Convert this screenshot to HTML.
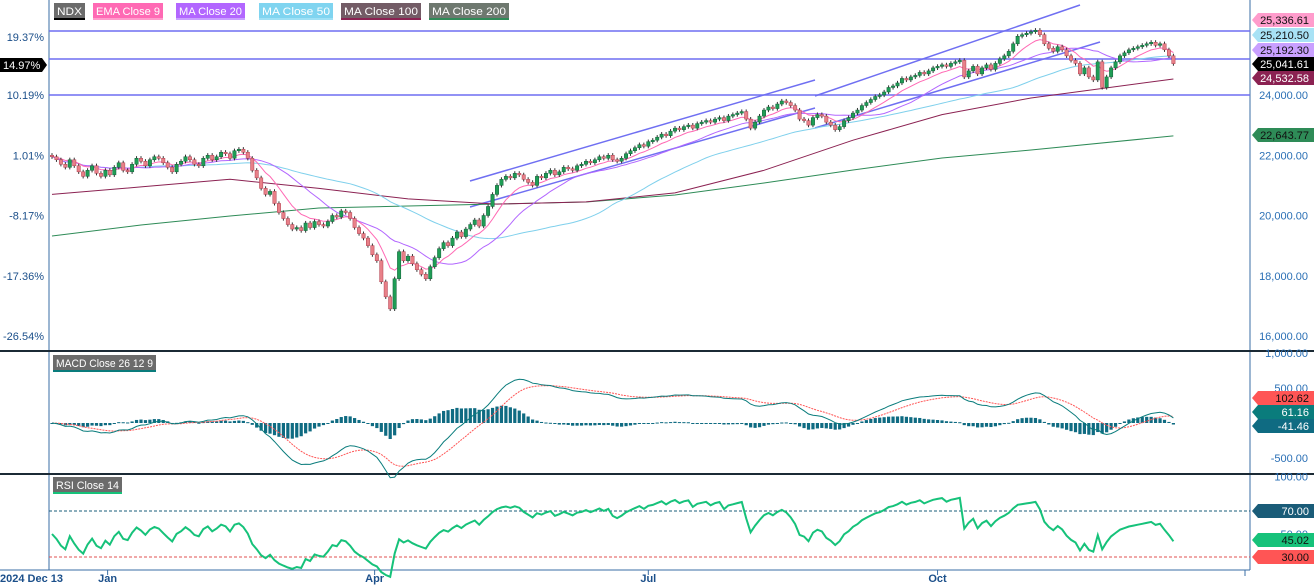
<!DOCTYPE html>
<html><head><meta charset="utf-8">
<style>
html,body{margin:0;padding:0;background:#fff;}
svg{display:block;font-family:"Liberation Sans",sans-serif;}
</style></head>
<body>
<svg id="c" width="1314" height="586" viewBox="0 0 1314 586"></svg>
<script>
const closes=[21950,21850,21700,21600,21850,21650,21450,21300,21500,21650,21400,21300,21500,
21350,21600,21750,21500,21450,21700,21900,21800,21650,21850,21950,21900,
21750,21600,21450,21700,21800,21950,21850,21700,21650,21900,22000,21850,21950,22100,22050,21900,22150,22200,
22100,21900,21500,21250,20900,20700,20800,20400,20100,19900,19700,19550,19600,19500,
19750,19600,19800,19700,19650,19800,20000,19950,20150,20100,19900,
19600,19400,19250,19000,18700,18500,17800,17300,16900,17900,18800,
18500,18650,18400,18200,18050,17900,18300,18600,18900,
19100,19000,19250,19450,19300,19550,19700,19850,19650,20000,20300,20700,21000,21200,
21300,21250,21400,21350,21200,21100,21000,21300,21250,21400,21500,21350,21450,21600,21550,21500,21650,21700,
21800,21750,21850,21950,21900,22000,21850,21800,21900,22050,22150,22250,22350,22300,22450,22500,22600,22700,
22650,22800,22900,22850,22950,23000,22900,23050,23100,23150,23100,23200,23250,23150,23300,23350,23400,23450,
23200,22900,23100,23300,23500,23600,23550,23700,23800,23750,23650,23500,23200,
23150,23000,23250,23350,23300,23100,23000,22850,22950,23150,23250,23400,23500,23650,
23750,23850,23950,24000,24100,24250,24300,24400,24550,24500,24600,24650,24750,24700,24800,24900,24950,25000,24950,25050,25100,25150,
24600,24800,24950,24700,24900,25000,24850,25050,25200,25300,25450,25700,25950,26000,26050,26100,26150,
26000,25700,25550,25450,25600,25500,25300,25150,25050,24700,24900,24600,24500,25100,24250,
24600,24900,25100,25300,25400,25500,25550,25600,25650,25700,25750,25650,25700,25500,25300,25041.61];
const maIdx=[0,20,40,60,80,100,120,140,160,180,200,220,252];
const ma100=[20700,20950,21200,20900,20550,20380,20450,20750,21500,22500,23350,23900,24532.58];
const ma200=[19320,19685,19983,20249,20315,20382,20448,20680,21079,21510,21909,22174,22643.77];
const priceTicks=[24000,22000,20000,18000,16000];
const pctLabels=["19.37%","10.19%","1.01%","-8.17%","-17.36%","-26.54%"];
const pctPrices=[26000,24000,22000,20000,18000,16000];
const macdTicks=[1000,500,-500];
const rsiTicks=[100,50];
const months=["Jan","Apr","Jul","Oct"];
const monthIdx=[12.5,72.5,134,199];

const NS="http://www.w3.org/2000/svg",S=document.getElementById('c');
function el(t,a,p){const e=document.createElementNS(NS,t);for(const k in a)e.setAttribute(k,a[k]);(p||S).appendChild(e);return e;}
const X=i=>52+i*4.45;
const Y=p=>95+(24000-p)*0.030125;
const YM=v=>423-v*0.07;
const YR=v=>511+(70-v)*1.15;

let g=el('g',{});
el('line',{x1:49,y1:0,x2:49,y2:570,stroke:'#3a6ea5','stroke-width':1},g);
el('line',{x1:1250,y1:0,x2:1250,y2:570,stroke:'#3a6ea5','stroke-width':1},g);
el('line',{x1:0,y1:351,x2:1314,y2:351,stroke:'#1b2a35','stroke-width':2},g);
el('line',{x1:0,y1:474,x2:1314,y2:474,stroke:'#1b2a35','stroke-width':2},g);
el('line',{x1:0,y1:570,x2:1250,y2:570,stroke:'#3a6ea5','stroke-width':1},g);

[31,59,95].forEach(yy=>{const l=el('line',{x1:49,y1:yy,x2:1250,y2:yy,stroke:'#6f6ff2','stroke-width':1.5});
});
[[470,181,815,80],[470,207,815,108],[815,96,1080,5],[815,128,1100,42]].forEach(c=>{const l=el('line',{x1:c[0],y1:c[1],x2:c[2],y2:c[3],stroke:'#6f6ff2','stroke-width':1.5});
});

function ema(a,n){const k=2/(n+1);const r=[];a.forEach((v,i)=>r.push(i?v*k+r[i-1]*(1-k):v));return r;}
function sma(a,n){return a.map((v,i)=>{const s=a.slice(Math.max(0,i-n+1),i+1);return s.reduce((x,y)=>x+y,0)/s.length;});}
function poly(vals,xf,yf,col,w,name,dash){const pts=vals.map((v,i)=>xf(i).toFixed(1)+','+yf(v).toFixed(1)).join(' ');
const p=el('polyline',{points:pts,fill:'none',stroke:col,'stroke-width':w});if(dash)p.setAttribute('stroke-dasharray',dash);
}
poly(ma200,i=>X(maIdx[i]),Y,'#2e8b57',1,'ma200-line');
poly(ma100,i=>X(maIdx[i]),Y,'#8b2252',1,'ma100-line');
poly(sma(closes,50),X,Y,'#7fd0ec',1,'ma50-line');
poly(sma(closes,20),X,Y,'#b266ff',1,'ma20-line');
poly(ema(closes,9),X,Y,'#ff69b4',1,'ema9-line');

closes.forEach((c,i)=>{const o=i?closes[i-1]:c+50;const up=c>=o;const hi=Math.max(o,c)+70,lo=Math.min(o,c)-70;
const cg=el('g',{});
el('line',{x1:X(i),y1:Y(hi),x2:X(i),y2:Y(lo),stroke:'#333','stroke-width':1},cg);
const t=Y(Math.max(o,c)),b=Y(Math.min(o,c));
el('rect',{x:X(i)-1.7,y:t,width:3.4,height:Math.max(1.5,b-t),fill:up?'#1f9d55':'#e88088',stroke:up?'#14603a':'#b04050','stroke-width':0.5},cg);});

const e12=ema(closes,12),e26=ema(closes,26);const macd=e12.map((v,i)=>v-e26[i]);const sig=ema(macd,9);
macd.forEach((v,i)=>{const h=v-sig[i];const r=el('rect',{x:X(i)-1.6,y:Math.min(YM(h),423),width:3.2,height:Math.max(1,Math.abs(YM(h)-423)),fill:'#0f6b82'});
});
poly(sig,X,YM,'#ff5555',1,'macd-signal-line','2,1');
poly(macd,X,YM,'#0a7c7c',1,'macd-line');

const rsi=[];let ag=40,al=40;closes.forEach((c,i)=>{if(!i){rsi.push(50);return;}const d=c-closes[i-1];const gn=Math.max(d,0),ls=Math.max(-d,0);
ag=(ag*13+gn)/14;al=(al*13+ls)/14;rsi.push(al===0?100:100-100/(1+ag/al));});
[70,30].forEach((v,k)=>{const l=el('line',{x1:49,y1:YR(v),x2:1250,y2:YR(v),stroke:k?'#e05050':'#1a5c78','stroke-width':1,'stroke-dasharray':'3,2'});
});
poly(rsi,X,YR,'#16c27a',2,'rsi-line');

function tag(x,y,w,txt,bg,under,name){const gg=el('g',{});
el('rect',{x:x,y:y,width:w,height:15,fill:bg},gg);el('rect',{x:x,y:y+15,width:w,height:2,fill:under},gg);
const t=el('text',{x:x+3,y:y+12,'font-size':11,fill:'#fff',textLength:w-6,lengthAdjust:'spacingAndGlyphs'},gg);t.textContent=txt;}
tag(54,3,31,'NDX','#6b6b6b','#000','legend-ndx');
tag(93,3,70,'EMA  Close 9','#ff69b4','#ff9ccc','legend-ema9');
tag(176,3,69,'MA  Close 20','#b266ff','#c9a0ff','legend-ma20');
tag(259,3,74,'MA  Close 50','#7fd4f0','#9ee0f5','legend-ma50');
tag(341,3,80,'MA  Close 100','#735c66','#8b2252','legend-ma100');
tag(429,3,80,'MA  Close 200','#6e786f','#2e8b57','legend-ma200');
tag(53,355,103,'MACD  Close 26 12 9','#6b6b6b','#0a7c7c','legend-macd');
tag(53,477,69,'RSI  Close 14','#6b6b6b','#16c27a','legend-rsi');

function txt(x,y,s,col,anchor,name,size,weight){const t=el('text',{x:x,y:y,'font-size':size||11,fill:col,'text-anchor':anchor||'start'});if(weight)t.setAttribute('font-weight',weight);
t.textContent=s;return t;}
pctLabels.forEach((s,i)=>txt(44,Y(pctPrices[i])+4+(i==0?2:0),s,'#1b4f8a','end','pct-label'));
priceTicks.forEach(p=>txt(1308,Y(p)+4,p.toLocaleString('en-US',{minimumFractionDigits:2}),'#2a6fb5','end','price-tick'));
macdTicks.forEach(v=>txt(1308,YM(v)+4,v.toLocaleString('en-US',{minimumFractionDigits:2}),'#2a6fb5','end','macd-tick'));
rsiTicks.forEach(v=>txt(1308,YR(v)+4,v.toFixed(2),'#2a6fb5','end','rsi-tick'));

function rtag(y,s,bg,fg,name){const gg=el('g',{});
el('path',{d:`M1252 ${y} L1258 ${y-7} L1314 ${y-7} L1314 ${y+7} L1258 ${y+7} Z`,fill:bg},gg);
const t=el('text',{x:1309,y:y+4,'font-size':11,fill:fg,'text-anchor':'end'},gg);t.textContent=s;}
rtag(20,'25,336.61','#ff9ccc','#111','tag-ema9');
rtag(35,'25,210.50','#a8e2f5','#111','tag-ma50');
rtag(50,'25,192.30','#c9a0ff','#111','tag-ma20');
rtag(64,'25,041.61','#000','#fff','tag-last');
rtag(78,'24,532.58','#8b2252','#fff','tag-ma100');
rtag(135,'22,643.77','#2e8b57','#111','tag-ma200');
rtag(398,'102.62','#ff5555','#111','tag-macd-signal');
rtag(412,'61.16','#0a7c7c','#fff','tag-macd');
rtag(426,'-41.46','#0f6b82','#fff','tag-macd-hist');
rtag(511,'70.00','#1a5c78','#fff','tag-rsi-70');
rtag(540,'45.02','#16c27a','#111','tag-rsi');
rtag(557,'30.00','#ff5555','#111','tag-rsi-30');
const lg=el('g',{});
el('path',{d:'M0 58 L42 58 L47 65 L42 72 L0 72 Z',fill:'#000'},lg);
const lt=el('text',{x:3,y:69,'font-size':11,fill:'#fff'},lg);lt.textContent='14.97%';

txt(0,582,'2024 Dec 13','#1b4f8a','start','x-label-start',11,'bold');
months.forEach((m,i)=>{const x=X(monthIdx[i]);el('line',{x1:x,y1:570,x2:x,y2:575,stroke:'#3a6ea5'});txt(x,582,m,'#1b4f8a','middle','x-label-month',11,'bold');});
el('line',{x1:1245,y1:570,x2:1245,y2:576,stroke:'#3a6ea5'});
</script>
</body></html>
